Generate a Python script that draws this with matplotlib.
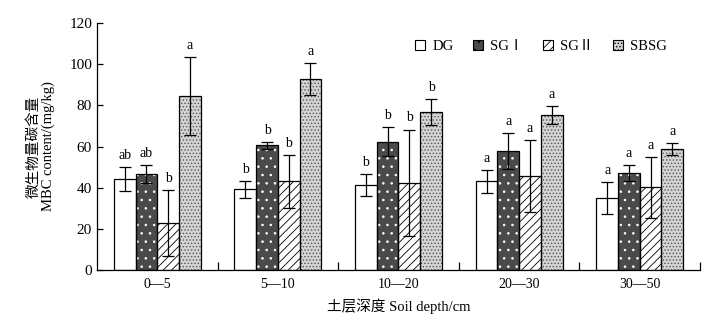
import numpy as np
import matplotlib.pyplot as plt
from matplotlib.patches import Patch

plt.rcParams['font.family'] = ['Liberation Serif', 'Noto Sans CJK SC']
plt.rcParams['hatch.linewidth'] = 0.6

depths = ["0\u20145", "5\u201410", "10\u201420", "20\u201430", "30\u201450"]
groups = ["DG", "SG\u2160", "SG\u2161", "SBSG"]

dg = [44.1, 39.2, 41.2, 43.1, 34.9]
sg1 = [46.5, 60.5, 62.3, 57.9, 47.0]
sg2 = [22.7, 43.1, 42.5, 45.6, 40.2]
sbsg = [84.5, 92.7, 76.7, 75.2, 58.7]

dg_err = [5.8, 4.1, 5.3, 5.6, 7.8]
sg1_err = [4.3, 1.5, 7.0, 8.8, 3.8]
sg2_err = [16.0, 12.7, 25.7, 17.5, 14.7]
sbsg_err = [18.7, 7.6, 6.2, 4.5, 2.9]

dg_sig = ["ab", "b", "b", "a", "a"]
sg1_sig = ["ab", "b", "b", "a", "a"]
sg2_sig = ["b", "b", "b", "a", "a"]
sbsg_sig = ["a", "a", "b", "a", "a"]

values = [dg, sg1, sg2, sbsg]
errors = [dg_err, sg1_err, sg2_err, sbsg_err]
letters = [dg_sig, sg1_sig, sg2_sig, sbsg_sig]

faces = ["white", "#4a4a4a", "white", "#d4d4d4"]
hatches = [None, "..", "////", "....."]
hatch_cols = ["black", "white", "black", "#555555"]

fig = plt.figure(figsize=(7.18, 3.22), dpi=100)
ax = fig.add_axes([0.135, 0.161, 0.84, 0.768])

x = np.arange(len(depths))
w = 0.18
for i in range(4):
    pos = x + (i - 1.5) * w
    # fill + hatch first, then a black outline on top
    ax.bar(pos, values[i], w, color=faces[i], hatch=hatches[i],
           edgecolor=hatch_cols[i], linewidth=0, zorder=2)
    ax.bar(pos, values[i], w, color="none", edgecolor="black",
           linewidth=0.9, zorder=3)
    ax.errorbar(pos, values[i], yerr=errors[i], fmt="none", ecolor="black",
                elinewidth=0.9, capsize=4, capthick=0.9, zorder=4)
    for p, v, e, s in zip(pos, values[i], errors[i], letters[i]):
        ax.text(p, v + e + 2.5, s, ha="center", va="bottom", fontsize=10)

ax.set_xlim(-0.5, len(depths) - 0.5)
ax.set_ylim(0, 120)
ax.set_yticks(range(0, 121, 20))
ax.set_xticks(x)
ax.set_xticklabels(depths)
ax.tick_params(axis="x", length=0, labelsize=10, pad=6)
ax.set_xticks(np.arange(0.5, len(depths)), minor=True)
ax.tick_params(axis="x", which="minor", direction="in", length=6, width=0.9)
ax.tick_params(axis="y", direction="in", length=4, width=0.9, labelsize=11)
ax.spines["top"].set_visible(False)
ax.spines["right"].set_visible(False)
ax.spines["left"].set_linewidth(0.9)
ax.spines["bottom"].set_linewidth(0.9)

ax.set_xlabel("土层深度 Soil depth/cm", fontsize=10.5, labelpad=5)
ax.set_ylabel("微生物量碳含量\nMBC content/(mg/kg)", fontsize=10.5,
              labelpad=10, linespacing=1.1)

handles = [Patch(facecolor=faces[i], hatch=hatches[i],
                 edgecolor="black", linewidth=0.8) for i in range(4)]
ax.legend(handles, groups, loc="upper right", bbox_to_anchor=(0.955, 0.955),
          ncol=4, frameon=False, fontsize=10.5, handlelength=0.7,
          handleheight=0.7, handletextpad=0.5, columnspacing=1.3,
          borderaxespad=0)

fig.savefig("out.png", dpi=100)
